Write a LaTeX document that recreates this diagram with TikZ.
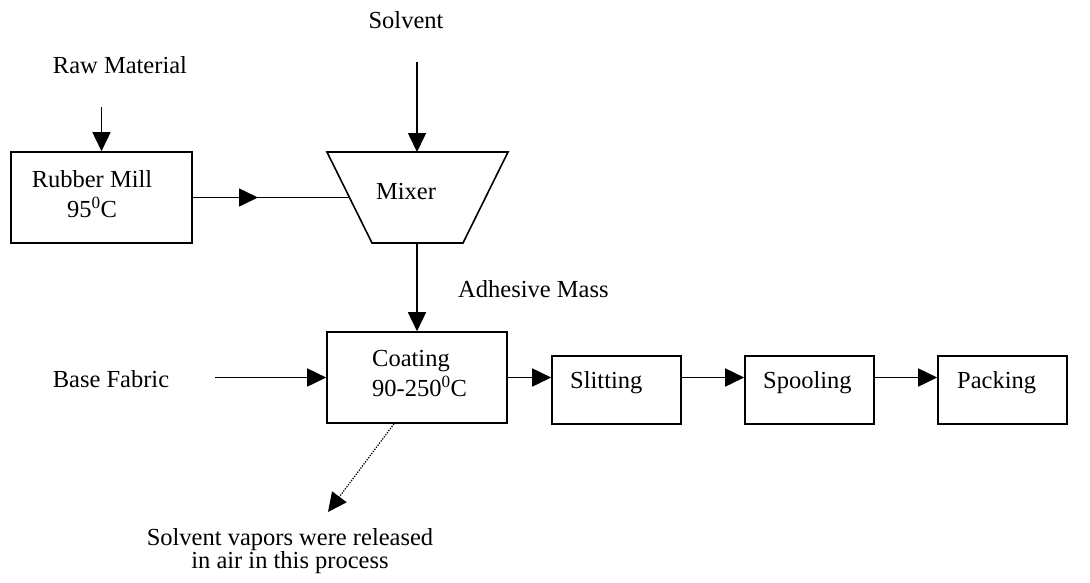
\documentclass[tikz,border=0pt]{standalone}
\usepackage{fontspec}
\setmainfont{Liberation Serif}
\usetikzlibrary{arrows.meta}
\begin{document}
\begin{tikzpicture}[x=1pt,y=-1pt,
  line/.style={line width=1.6pt},
  flow/.style={line, -{Triangle[length=19pt,width=18pt]}},
  unit/.style={draw, line width=1.6pt, rectangle, inner sep=0pt},
  txt/.style={font=\fontsize{24.5}{30}\selectfont, inner sep=0pt},
]
\useasboundingbox (0,0) rectangle (1090,582);

% process units
\node[unit, minimum width=181pt, minimum height=91pt] (mill) at (101.5,197.5) {};
\node[unit, minimum width=180pt, minimum height=91pt] (coat) at (417,377.5) {};
\node[unit, minimum width=129pt, minimum height=68pt] (slit) at (616.5,390) {};
\node[unit, minimum width=129pt, minimum height=68pt] (spool) at (809.5,390) {};
\node[unit, minimum width=129pt, minimum height=68pt] (pack) at (1002.5,390) {};

% mixer hopper
\draw[line, line join=miter] (327,152) -- (508,152) -- (463,243) -- (372,243) -- cycle;
\coordinate (mixtop) at (417,152);
\coordinate (mixbot) at (417,243);
\coordinate (mixin) at (349.7,197.5);

% texts
\node[txt, anchor=base] (solv) at (406,28) {Solvent};
\node[txt, anchor=base] (raw) at (120,73) {Raw Material};
\node[txt, anchor=base] (fab) at (111,387) {Base Fabric};
\node[txt, align=center] (milltxt) at (92,194) {Rubber Mill\\95\textsuperscript{0}C};
\node[txt, anchor=base] (mixtxt) at (406,199) {Mixer};
\node[txt, anchor=base west] (adh) at (458,297) {Adhesive Mass};
\node[txt, align=left, anchor=west] (coattxt) at (372,374) {Coating\\90-250\textsuperscript{0}C};
\node[txt, anchor=base west] (slittxt) at (570,388) {Slitting};
\node[txt, anchor=base west] (spooltxt) at (763,388) {Spooling};
\node[txt, anchor=base west] (packtxt) at (957,388) {Packing};
\node[txt, align=center, font=\fontsize{24.5}{23.5}\selectfont] (vap) at (290,551)
  {Solvent vapors were released\\in air in this process};

% free ends of the feed and vent lines
\coordinate (rawsrc) at (101.5,107);
\coordinate (solvsrc) at (417,62);
\coordinate (fabsrc) at (215,377.5);
\coordinate (millmid) at (258,197.5);
\coordinate (vapend) at (328,512);

% connectors
\draw[flow] (rawsrc) -- (mill.north);
\draw[flow] (solvsrc) -- (mixtop);
\draw[line] (mill.east) -- (mixin);
\draw[flow] (mill.east) -- (millmid);
\draw[flow] (mixbot) -- (coat.north);
\draw[flow] (fabsrc) -- (coat.west);
\draw[flow] (coat.east) -- (coat.east -| slit.west);
\draw[flow] (slit.east |- coat.east) -- (spool.west |- coat.east);
\draw[flow] (spool.east |- coat.east) -- (pack.west |- coat.east);
\draw[line width=1.2pt, dash pattern=on 1.3pt off 1.3pt, -{Triangle[length=19pt,width=18pt]}]
  ([xshift=-23pt]coat.south) -- (vapend);
\end{tikzpicture}
\end{document}
